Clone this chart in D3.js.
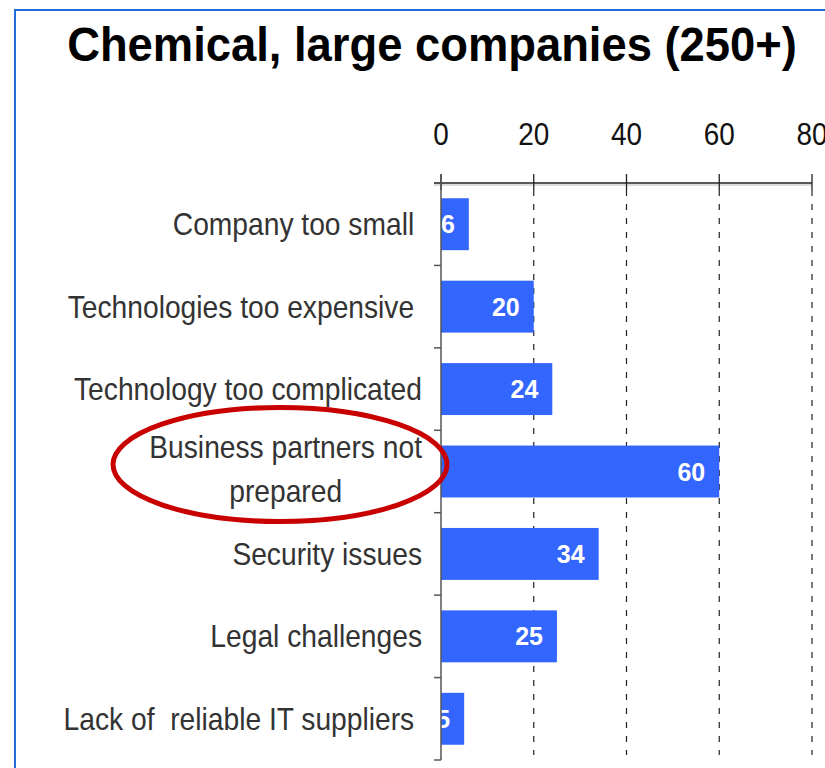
<!DOCTYPE html>
<html>
<head>
<meta charset="utf-8">
<script src="https://cdn.jsdelivr.net/npm/d3@7"></script>
<style>
  html, body { margin: 0; padding: 0; background: #fff; }
  svg { display: block; }
  text { font-family: "Liberation Sans", Arial, sans-serif; }
</style>
</head>
<body>
<svg id="chart" width="825" height="768"></svg>
<script>
// Share of respondents citing each barrier (%)
const categories = [
  "Company too small ",
  "Technologies too expensive ",
  "Technology too complicated",
  "Business partners not prepared",
  "Security issues",
  "Legal challenges",
  "Lack of  reliable IT suppliers "
];
const values = [6, 20, 24, 60, 34, 25, 5];
const tickValues = [0, 20, 40, 60, 80];
const titleText = "Chemical, large companies (250+)";
const highlighted = "Business partners not prepared";
// line breaks for labels that wrap
const wrapped = { "Business partners not prepared": ["Business partners not", "prepared"] };

const svg = d3.select("#chart");
const W = 825, H = 768;

// condensed text: glyphs squeezed horizontally around an anchor point
function narrowText(parent, x, y, s, sx) {
  return parent.append("g")
    .attr("transform", `translate(${x},${y}) scale(${sx},1)`)
    .append("text")
    .attr("x", 0).attr("y", 0)
    .style("white-space", "pre")
    .text(s);
}

// page frame
svg.append("path")
  .attr("d", `M15,${H + 5} L15,10 L${W + 5},10`)
  .attr("fill", "none")
  .attr("stroke", "#1f6fd6")
  .attr("stroke-width", 2);

narrowText(svg, 432, 61, titleText, 0.945)
  .attr("text-anchor", "middle")
  .attr("font-size", 48)
  .attr("font-weight", "bold")
  .attr("fill", "#000");

const x = d3.scaleLinear().domain([0, 80]).range([441, 812]);
const y = d3.scaleBand().domain(categories).range([183, 760])
  .paddingInner(0.37).paddingOuter(0.185);
const step = y.step();
const bandTop = d => y(d) - step * y.paddingInner() / 2;

// dashed gridlines
svg.append("g").selectAll("line")
  .data(tickValues.filter(v => v > 0))
  .join("line")
  .attr("x1", d => x(d)).attr("x2", d => x(d))
  .attr("y1", 190).attr("y2", 755)
  .attr("stroke", "#222")
  .attr("stroke-width", 1.2)
  .attr("stroke-dasharray", "6,8");

// bars, clipped at the value axis
svg.append("clipPath").attr("id", "plotClip")
  .append("rect").attr("x", x(0)).attr("y", 183).attr("width", 400).attr("height", 600);

const barG = svg.append("g").attr("clip-path", "url(#plotClip)");
barG.selectAll("rect")
  .data(categories)
  .join("rect")
  .attr("x", x(0))
  .attr("y", d => y(d))
  .attr("width", (d, i) => x(values[i]) - x(0))
  .attr("height", y.bandwidth())
  .attr("fill", "#3366ff");

barG.selectAll("text")
  .data(categories)
  .join("text")
  .attr("x", (d, i) => x(values[i]) - 14)
  .attr("y", d => y(d) + y.bandwidth() / 2 + 9)
  .attr("text-anchor", "end")
  .attr("font-weight", "bold")
  .attr("font-size", 25)
  .attr("fill", "#fff")
  .text((d, i) => values[i]);

// top axis
const topAxis = svg.append("g");
topAxis.append("line")
  .attr("x1", 434).attr("x2", x(80))
  .attr("y1", 185).attr("y2", 185)
  .attr("stroke", "#ddd").attr("stroke-width", 2);
topAxis.append("line")
  .attr("x1", 434).attr("x2", x(80))
  .attr("y1", 183).attr("y2", 183)
  .attr("stroke", "#222").attr("stroke-width", 1.3);
topAxis.selectAll("line.tick")
  .data(tickValues)
  .join("line")
  .attr("class", "tick")
  .attr("x1", d => x(d)).attr("x2", d => x(d))
  .attr("y1", 174).attr("y2", 190)
  .attr("stroke", "#222").attr("stroke-width", 1.3);
tickValues.forEach(v => {
  narrowText(topAxis, x(v), 145, String(v), 0.9)
    .attr("text-anchor", "middle")
    .attr("font-size", 31)
    .attr("fill", "#111");
});

// left axis
const leftAxis = svg.append("g");
leftAxis.append("line")
  .attr("x1", x(0)).attr("x2", x(0))
  .attr("y1", 174).attr("y2", 760)
  .attr("stroke", "#555").attr("stroke-width", 1.5);
const boundaries = categories.map(bandTop).concat([bandTop(categories[categories.length - 1]) + step]);
leftAxis.selectAll("line.tick")
  .data(boundaries)
  .join("line")
  .attr("class", "tick")
  .attr("x1", 434).attr("x2", x(0))
  .attr("y1", d => d).attr("y2", d => d)
  .attr("stroke", "#555").attr("stroke-width", 1.5);

// category labels
const labelRight = 422;
const labelScale = 0.91;
const labelG = svg.append("g").attr("fill", "#333").attr("font-size", 31);
categories.forEach(c => {
  const cy = y(c) + y.bandwidth() / 2;
  const lines = wrapped[c];
  if (!lines) {
    narrowText(labelG, labelRight, cy + 11, c, labelScale)
      .attr("text-anchor", "end");
  } else {
    const texts = lines.map((l, i) =>
      narrowText(labelG, 0, cy - 14 + i * 44, l, labelScale).attr("text-anchor", "middle"));
    const wMax = d3.max(texts, t => t.node().getComputedTextLength()) * labelScale;
    texts.forEach((t, i) => d3.select(t.node().parentNode)
      .attr("transform", `translate(${labelRight - wMax / 2},${cy - 14 + i * 44}) scale(${labelScale},1)`));
  }
});

// highlight ring around the key barrier
const hc = y(highlighted) + y.bandwidth() / 2;
svg.append("ellipse")
  .attr("cx", 280).attr("cy", hc - 7)
  .attr("rx", 167).attr("ry", 57)
  .attr("fill", "none")
  .attr("stroke", "#c80000")
  .attr("stroke-width", 5);
</script>
</body>
</html>
